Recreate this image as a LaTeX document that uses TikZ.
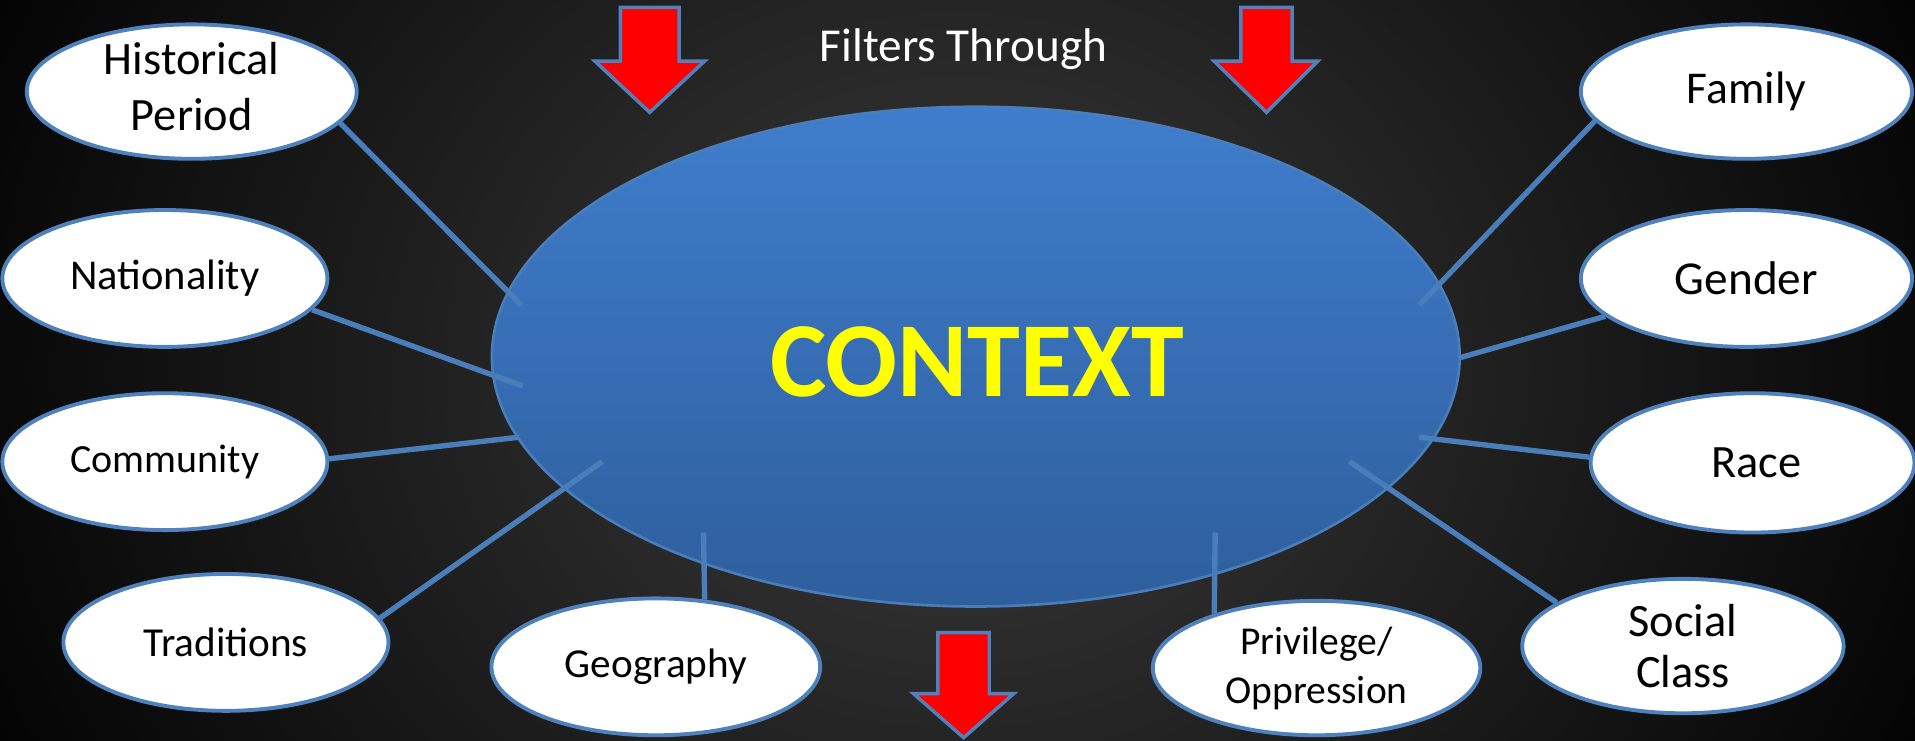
\documentclass[tikz,border=0pt]{standalone}
\usepackage{fontspec}
\setmainfont{Carlito}
\usetikzlibrary{shapes.geometric}

\definecolor{bgmid}{HTML}{3C3C3C}
\definecolor{edgeblue}{HTML}{4F81BD}
\definecolor{linkblue}{HTML}{4A7EBB}
\definecolor{ctxtop}{HTML}{3F7DCC}
\definecolor{ctxbot}{HTML}{2E5E9D}
\definecolor{ctxyellow}{HTML}{FFFF00}
\definecolor{arrowred}{HTML}{FF0000}

\tikzset{
  bubble/.style={ellipse, draw=edgeblue, line width=0.9pt, fill=white,
    inner sep=0pt},
  bubbletext/.style={text=black, align=center, inner sep=0pt},
  link/.style={draw=linkblue, line width=1.25pt},
  downarrow/.style={fill=arrowred, draw=edgeblue, line width=0.8pt, line join=miter},
}

\begin{document}
\begin{tikzpicture}[x=0.01cm, y=-0.01cm]
  \useasboundingbox (0,0) rectangle (1568,606);

  % dark backdrop with a soft lighter centre
  \fill[black] (0,0) rectangle (1568,606);
  \begin{scope}
    \clip (0,0) rectangle (1568,606);
    \shade[inner color=bgmid, outer color=black]
      (784,303) ellipse [x radius=9.2cm, y radius=7.8cm];
  \end{scope}

  % central ellipse
  \node[ellipse, draw=linkblue, line width=0.6pt, top color=ctxtop, bottom color=ctxbot,
        minimum width=7.92cm, minimum height=4.09cm, inner sep=0pt]
    (ctx) at (799,292) {};
  \node[font=\fontsize{24.8}{28}\selectfont\bfseries, text=ctxyellow, inner sep=0pt]
    (ctxlabel) at (800,296) {CONTEXT};

  % heading
  \node[font=\fontsize{11}{13}\selectfont, text=white, inner sep=0pt]
    (filters) at (789,40) {Filters Through};

  % surrounding factors
  \node[bubble, minimum width=2.70cm, minimum height=1.10cm,
        label={[bubbletext, font=\fontsize{10.8}{13.1}\selectfont, yshift=0.04cm]center:Historical\\Period}]
    (hist) at (157,75) {};
  \node[bubble, minimum width=2.66cm, minimum height=1.12cm,
        label={[bubbletext, font=\fontsize{9.9}{12}\selectfont]center:Nationality}]
    (nat) at (135,228) {};
  \node[bubble, minimum width=2.66cm, minimum height=1.12cm,
        label={[bubbletext, font=\fontsize{9.3}{11}\selectfont]center:Community}]
    (com) at (135,378) {};
  \node[bubble, minimum width=2.66cm, minimum height=1.12cm,
        label={[bubbletext, font=\fontsize{9.6}{11.5}\selectfont]center:Traditions}]
    (trad) at (185,526) {};
  \node[bubble, minimum width=2.69cm, minimum height=1.12cm,
        label={[bubbletext, font=\fontsize{9.6}{11.5}\selectfont]center:Geography}]
    (geo) at (537,546) {};
  \node[bubble, minimum width=2.68cm, minimum height=1.10cm,
        label={[bubbletext, font=\fontsize{9.2}{11.4}\selectfont]center:Privilege/\\Oppression}]
    (priv) at (1078,547) {};
  \node[bubble, minimum width=2.63cm, minimum height=1.10cm,
        label={[bubbletext, font=\fontsize{10.8}{12}\selectfont]center:Social\\Class}]
    (soc) at (1378,529) {};
  \node[bubble, minimum width=2.65cm, minimum height=1.14cm,
        label={[bubbletext, font=\fontsize{10.8}{13}\selectfont, xshift=0.03cm]center:Race}]
    (race) at (1435,379) {};
  \node[bubble, minimum width=2.71cm, minimum height=1.12cm,
        label={[bubbletext, font=\fontsize{11}{13}\selectfont]center:Gender}]
    (gen) at (1430,228) {};
  \node[bubble, minimum width=2.71cm, minimum height=1.10cm,
        label={[bubbletext, font=\fontsize{10.6}{13}\selectfont]center:Family}]
    (fam) at (1430,75) {};

  % inner ends of the links
  \coordinate (hIn) at (427,250);
  \coordinate (nIn) at (428,316);
  \coordinate (cIn) at (425,358);
  \coordinate (tIn) at (493,378);
  \coordinate (gIn) at (576,436);
  \coordinate (pIn) at (995,436);
  \coordinate (sIn) at (1105,378);
  \coordinate (rIn) at (1162,358);
  \coordinate (eIn) at (1195,293);
  \coordinate (fIn) at (1162,250);

  \draw[link] (hist.-12) -- (hIn);
  \draw[link] (nat.-12) -- (nIn);
  \draw[link] (com.1) -- (cIn);
  \draw[link] (trad.9.5) -- (tIn);
  \draw[link] (geo.54) -- (gIn);
  \draw[link] (priv.152.6) -- (pIn);
  \draw[link] (soc.161) -- (sIn);
  \draw[link] (race.178) -- (rIn);
  \draw[link] (gen.-165.6) -- (eIn);
  \draw[link] (fam.-169) -- (fIn);

  % red arrows
  \draw[downarrow] (508,6) -- (556,6) -- (556,50) -- (577,50) -- (532,92)
    -- (487,50) -- (508,50) -- cycle;
  \draw[downarrow] (1016,6) -- (1058,6) -- (1058,50) -- (1079,50) -- (1037,92)
    -- (994,50) -- (1016,50) -- cycle;
  \draw[downarrow] (768,518) -- (810,518) -- (810,568) -- (830,568) -- (789,604)
    -- (748,568) -- (768,568) -- cycle;
\end{tikzpicture}
\end{document}
